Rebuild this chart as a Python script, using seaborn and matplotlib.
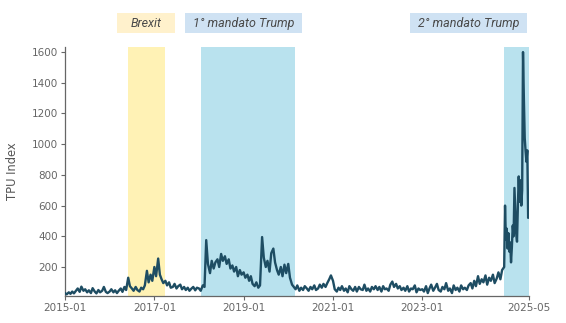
import matplotlib
matplotlib.use("Agg")
import matplotlib.pyplot as plt
from matplotlib.patches import Rectangle
import pandas as pd
import seaborn as sns

# ---------------- data ----------------
# semi-monthly readings (1st and 15th) Jan 2015 - Oct 2024
tpu_2015 = [30, 22, 35, 25, 40, 28, 45, 60, 38, 72, 45, 55, 35, 48, 30, 62, 40, 28, 50, 35, 45, 70, 38, 30]
tpu_2016 = [40, 55, 35, 48, 30, 45, 60, 38, 70, 50, 130, 75, 60, 45, 70, 50, 40, 65, 55, 80, 175, 100, 150, 110]
tpu_2017 = [200, 140, 255, 150, 120, 95, 110, 80, 100, 65, 70, 90, 60, 75, 85, 55, 70, 50, 65, 45, 60, 70, 48, 65]
tpu_2018 = [60, 45, 80, 70, 375, 220, 160, 240, 190, 230, 250, 200, 285, 240, 270, 220, 250, 190, 210, 170, 200, 140, 180, 150]
tpu_2019 = [165, 130, 150, 110, 140, 90, 75, 100, 65, 80, 395, 260, 200, 240, 170, 290, 320, 230, 180, 150, 200, 140, 215, 160]
tpu_2020 = [220, 130, 85, 70, 55, 80, 45, 65, 50, 75, 60, 45, 70, 55, 80, 50, 60, 85, 65, 90, 70, 95, 120, 145]
tpu_2021 = [110, 55, 40, 65, 50, 75, 45, 60, 35, 75, 55, 45, 70, 40, 70, 55, 50, 85, 45, 60, 40, 70, 55, 75]
tpu_2022 = [50, 70, 40, 75, 55, 60, 45, 85, 105, 70, 90, 60, 75, 50, 65, 45, 75, 40, 60, 55, 80, 35, 60, 50]
tpu_2023 = [55, 40, 75, 30, 60, 85, 45, 65, 90, 50, 40, 70, 55, 95, 45, 60, 30, 80, 50, 65, 40, 80, 55, 65]
tpu_2024 = [50, 80, 95, 60, 110, 75, 140, 90, 120, 100, 145, 85, 130, 110, 150, 95, 125, 165, 120, 180]
# weekly readings Nov 2024 - May 2025
tpu_recent = [200, 600, 380, 450, 320, 420, 300, 360, 230, 330, 470, 400, 715, 560, 420,
              365, 600, 790, 625, 765, 600, 700, 1600, 1300, 1040, 955, 885, 960, 520, 625]

tick_dates = ["2015-01-01", "2017-01-01", "2019-01-01", "2021-01-01", "2023-01-01", "2025-05-23"]
tick_labels = ["2015-01", "2017-01", "2019-01", "2021-01", "2023-01", "2025-05"]
y_ticks = [200, 400, 600, 800, 1000, 1200, 1400, 1600]

event_names = ["Brexit", "1° mandato Trump", "2° mandato Trump"]
event_starts = ["2016-06-01", "2018-01-18", "2024-11-01"]
event_ends = ["2017-03-29", "2020-02-22", "2025-05-23"]
event_colors = ["#FFF2B5", "#B9E2EE", "#B9E2EE"]
label_colors = ["#FFF1CC", "#CFE2F3", "#CFE2F3"]

semi = tpu_2015 + tpu_2016 + tpu_2017 + tpu_2018 + tpu_2019 + tpu_2020 + tpu_2021 + tpu_2022 + tpu_2023 + tpu_2024
dates_semi = pd.date_range("2015-01-01", "2024-10-15", freq="SMS")
dates_week = pd.date_range("2024-11-01", periods=len(tpu_recent), freq="7D")
df = pd.DataFrame({
    "date": list(dates_semi) + list(dates_week),
    "tpu": semi + tpu_recent,
})

# ---------------- plot ----------------
sns.set_theme(style="ticks")
plt.rcParams["font.family"] = ["DejaVu Sans"]

W, H = 566, 323
fig = plt.figure(figsize=(W / 100, H / 100), dpi=100)
ax = fig.add_axes([65 / W, 1 - 296 / H, (529 - 65) / W, (296 - 47) / H])

for s, e, c in zip(event_starts, event_ends, event_colors):
    ax.axvspan(pd.Timestamp(s), pd.Timestamp(e), color=c, lw=0, zorder=0)

sns.lineplot(data=df, x="date", y="tpu", ax=ax, color="#1E4D63", linewidth=1.7, zorder=3)

ax.set_xlim(df["date"].iloc[0], df["date"].iloc[-1])
ax.set_ylim(11, 1633)
ax.set_xticks([pd.Timestamp(t) for t in tick_dates])
ax.set_xticklabels(tick_labels)
ax.set_yticks(y_ticks)
ax.set_xlabel("")
ax.set_ylabel("TPU Index", fontsize=8.3, color="#555555", labelpad=9)

for side in ["top", "right"]:
    ax.spines[side].set_visible(False)
for side in ["left", "bottom"]:
    ax.spines[side].set_color("#666666")
    ax.spines[side].set_linewidth(0.9)
ax.tick_params(axis="both", direction="out", length=3, width=0.8, colors="#666666",
               labelsize=7.5, labelcolor="#666666", pad=2)

# event label boxes (pixel layout)
box_x0 = [117, 185, 410]
box_x1 = [175, 302, 527]
for name, x0, x1, bc in zip(event_names, box_x0, box_x1, label_colors):
    fig.patches.append(Rectangle((x0 / W, 1 - 33 / H), (x1 - x0) / W, 20 / H,
                                 transform=fig.transFigure, facecolor=bc, edgecolor="none"))
    fig.text((x0 + x1) / 2 / W, 1 - 23.5 / H, name, ha="center", va="center",
             family=["Roboto", "DejaVu Sans"], style="italic",
             fontsize=9, color="#4a4a4a")

fig.savefig("out.png", dpi=100)
